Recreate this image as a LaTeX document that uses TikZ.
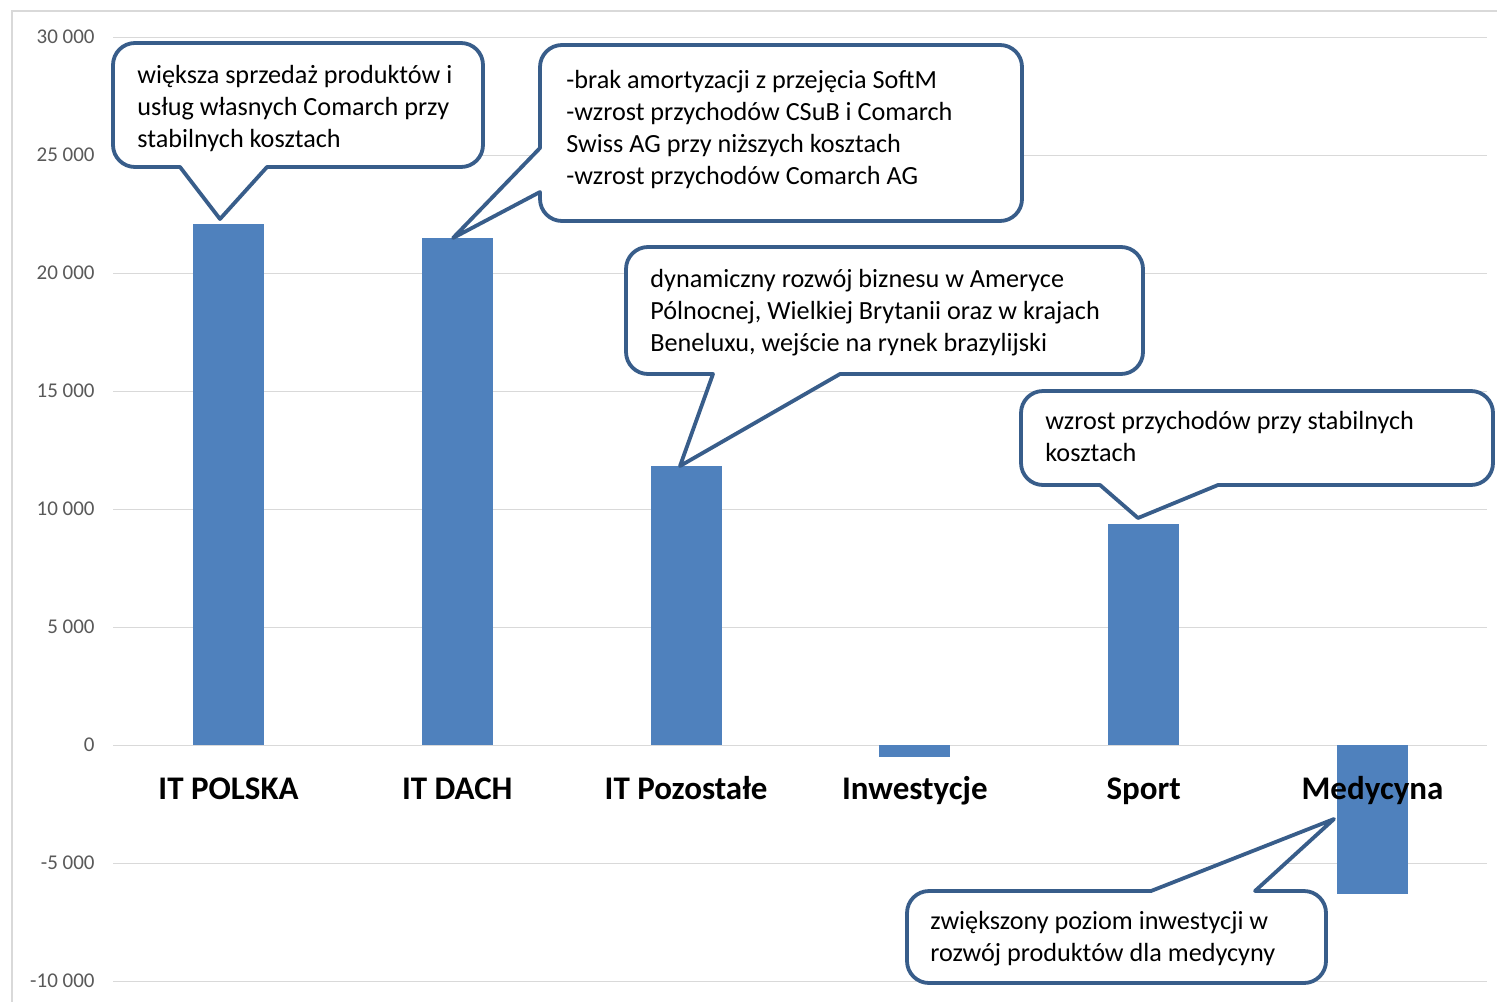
\documentclass[tikz,border=0pt]{standalone}
\usepackage{fontspec}
\setmainfont{Carlito}
\definecolor{barblue}{RGB}{79,129,189}
\definecolor{calloutline}{RGB}{56,93,138}
\definecolor{gridgray}{RGB}{217,217,217}
\definecolor{ticktext}{RGB}{89,89,89}
\tikzset{
  bar/.style={fill=barblue},
  callout/.style={draw=calloutline, line width=1.9pt, fill=white, rounded corners=11pt, line join=round},
  note/.style={anchor=base west, align=left, inner sep=0pt, font=\fontsize{13.1pt}{16pt}\selectfont},
  catlabel/.style={anchor=base, inner sep=0pt, font=\fontsize{16.5pt}{20pt}\selectfont\bfseries},
  ticklabel/.style={anchor=east, inner sep=0pt, text=ticktext, font=\fontsize{10.5pt}{12pt}\selectfont},
}
\begin{document}
\begin{tikzpicture}[x=0.5pt, y=-0.5pt]
      \useasboundingbox (0,0) rectangle (1497,1001);
      \fill[white] (0,0) rectangle (1497,1001);
      \draw[gridgray, line width=0.75pt] (12,11) rectangle (1530,1030);

      \foreach \v/\t in {30/30~000, 25/25~000, 20/20~000, 15/15~000, 10/10~000, 5/5~000, 0/0, -5/-5~000, -10/-10~000}{
        \draw[gridgray, line width=0.5pt] (113,{745-23.6*(\v)}) -- (1487,{745-23.6*(\v)});
        \node[ticklabel] (tick\v) at (95,{745-23.6*(\v)}) {\t};
      }

      \foreach \x/\v in {228.5/22.076, 457.3/21.483, 686.1/11.822, 914.9/-0.508, 1143.7/9.364, 1372.5/-6.314}
        \fill[bar] ({\x-35.5},745) rectangle ({\x+35.5},{745-23.6*(\v)});

      \foreach \x/\n/\t in {228.5/pl/IT POLSKA, 457.3/dach/IT DACH, 686.1/poz/IT Pozostałe, 914.9/inw/Inwestycje, 1143.7/sport/Sport, 1372.5/med/Medycyna}
        \node[catlabel] (\n) at (\x,799) {\t};

      \draw[callout] (300,43) -- (113,43) -- (113,167) [sharp corners] -- (180,167) -- (220,219) -- (267,167) [rounded corners=11pt] -- (483,167) -- (483,43) -- cycle;
      \node[note] (polska) at (137,147) {większa sprzedaż produktów i\\usług własnych Comarch przy\\stabilnych kosztach};

      \draw[callout] (800,45) -- (540,45) [sharp corners] -- (540,148) -- (453,238) -- (540,192) [rounded corners=11pt] -- (540,221) -- (1022,221) -- (1022,45) -- cycle;
      \node[note] (dachnote) at (566,184) {-brak amortyzacji z przejęcia SoftM\\-wzrost przychodów CSuB i Comarch\\Swiss AG przy niższych kosztach\\-wzrost przychodów Comarch AG};

      \draw[callout] (900,247) -- (626,247) -- (626,374) [sharp corners] -- (713,374) -- (680,466) -- (840,374) [rounded corners=11pt] -- (1143,374) -- (1143,247) -- cycle;
      \node[note] (poznote) at (650,351) {dynamiczny rozwój biznesu w Ameryce\\Pólnocnej, Wielkiej Brytanii oraz w krajach\\Beneluxu, wejście na rynek brazylijski};

      \draw[callout] (1250,391) -- (1021,391) -- (1021,485) [sharp corners] -- (1100,485) -- (1138,518) -- (1218,485) [rounded corners=11pt] -- (1493,485) -- (1493,391) -- cycle;
      \node[note] (sportnote) at (1045,461) {wzrost przychodów przy stabilnych\\kosztach};

      \draw[callout] (1000,983) -- (1326,983) -- (1326,891) [sharp corners] -- (1255,891) -- (1334,819) -- (1151,891) [rounded corners=11pt] -- (907,891) -- (907,983) -- cycle;
      \node[note] (mednote) at (930,961) {zwiększony poziom inwestycji w\\rozwój produktów dla medycyny};
\end{tikzpicture}
\end{document}
